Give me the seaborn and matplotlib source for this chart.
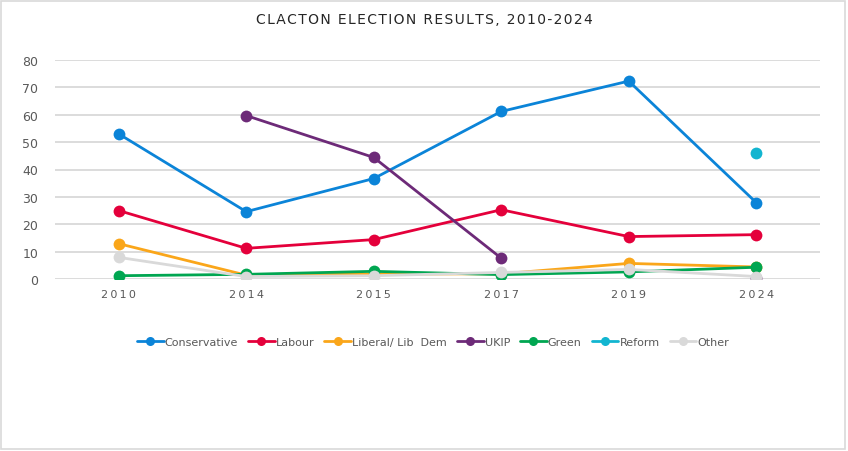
import numpy as np
import pandas as pd
import matplotlib
matplotlib.use("Agg")
import matplotlib.pyplot as plt
from matplotlib.lines import Line2D
from matplotlib.patches import Rectangle
import seaborn as sns

years = ["2010", "2014", "2015", "2017", "2019", "2024"]
parties = ["Conservative", "Labour", "Liberal/ Lib  Dem", "UKIP", "Green", "Reform", "Other"]
conservative = [53.0, 24.6, 36.7, 61.2, 72.3, 27.9]
labour = [25.0, 11.2, 14.4, 25.3, 15.5, 16.2]
libdem = [12.9, 1.4, 1.8, 1.9, 5.7, 4.4]
ukip = [np.nan, 59.7, 44.4, 7.6, np.nan, 0.3]
green = [1.2, 1.7, 2.8, 1.6, 2.6, 4.3]
reform = [np.nan, np.nan, np.nan, np.nan, np.nan, 46.2]
other = [7.9, 0.9, 1.2, 2.4, 3.5, 0.9]
series = [conservative, labour, libdem, ukip, green, reform, other]
colors = ["#0B84D8", "#E4003B", "#FAA61A", "#6D2A78", "#00A651", "#12B5D0", "#D9D9D9"]
title = "CLACTON ELECTION RESULTS, 2010-2024"

rows = []
for p, vals in zip(parties, series):
    seg = 0
    prev_nan = True
    for i, v in enumerate(vals):
        if np.isnan(v):
            prev_nan = True
            continue
        if prev_nan:
            seg += 1
        prev_nan = False
        rows.append({"party": p, "pos": i, "value": v, "seg": f"{p}_{seg}"})
df = pd.DataFrame(rows)

sns.set_style("white")
plt.rcParams["font.family"] = ["DejaVu Sans"]

fig = plt.figure(figsize=(8.48, 4.52), dpi=100)
ax = fig.add_axes([55/848, 1-280/452, 765/848, 219/452])

palette = dict(zip(parties, colors))
for p in parties:
    sub = df[df.party == p]
    sns.lineplot(data=sub, x="pos", y="value", units="seg", estimator=None,
                 color=palette[p], marker="o", markersize=8.5, markeredgewidth=0,
                 linewidth=2.0, ax=ax, legend=False, sort=True)

hair = "\u200a"
ax.set_xlim(-0.5, 5.5)
ax.set_ylim(0, 80)
ax.set_yticks(range(0, 81, 10))
ax.set_xticks(range(len(years)))
ax.set_xticklabels([(hair * 2).join(y) for y in years])
ax.set_xlabel("")
ax.set_ylabel("")
ax.grid(axis="y", color="#D9D9D9", linewidth=1.3)
ax.set_axisbelow(True)
for s in ax.spines.values():
    s.set_visible(False)
ax.tick_params(axis="both", length=0, colors="#595959", labelsize=9)
ax.tick_params(axis="x", pad=7, labelsize=8)
ax.tick_params(axis="y", pad=12)

fig.text(0.5, 1-20/452, hair.join(title),
         ha="center", va="center", fontsize=10, color="#262626")

handles = [Line2D([0], [0], color=c, marker="o", markersize=6.5, markeredgewidth=0, linewidth=2.0)
           for c in colors]
leg = fig.legend(handles, parties, loc="center", bbox_to_anchor=(433/848, 1-343/452), ncol=7,
                 frameon=False, fontsize=8, handlelength=2.4, handletextpad=0.1,
                 columnspacing=0.9, labelcolor="#595959")

fig.patches.append(Rectangle((1/848, 2/452), 844/848, 448/452, transform=fig.transFigure,
                             fill=False, edgecolor="#D9D9D9", linewidth=1.2))

fig.savefig("out.png", dpi=100)
